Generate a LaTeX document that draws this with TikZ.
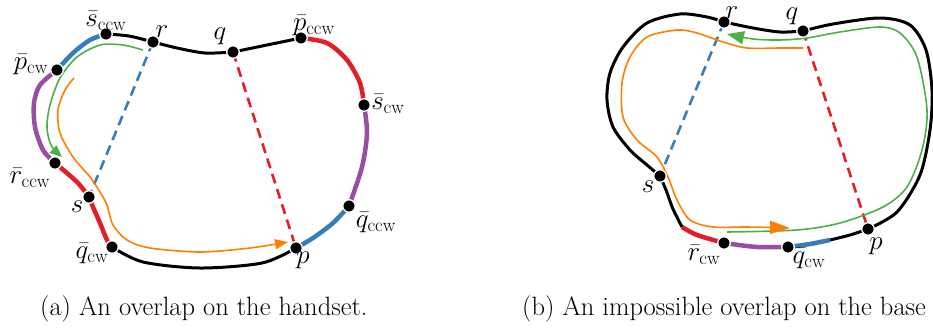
\RequirePackage{fix-cm}
\documentclass[tikz,border=0pt]{standalone}
\usetikzlibrary{arrows.meta}
\definecolor{cred}{RGB}{228,30,38}
\definecolor{cblue}{RGB}{55,126,184}
\definecolor{cpurple}{RGB}{152,78,163}
\definecolor{cgreen}{RGB}{77,175,74}
\definecolor{corange}{RGB}{255,127,0}
\begin{document}
\begin{tikzpicture}[x=1pt,y=-1pt,
  outline/.style={line width=3pt, black},
  seg/.style={line width=4.5pt},
  chord/.style={line width=2.6pt, dash pattern=on 10pt off 6pt},
  route/.style={line width=1.6pt},
  dot/.style={circle, fill=black, draw=white, line width=1.3pt, minimum size=12.5pt, inner sep=0pt},
  lbl/.style={font=\fontsize{27}{27}\selectfont, inner sep=0pt},
  captext/.style={font=\fontsize{26.5}{30}\selectfont, anchor=base west, inner sep=0pt}]
\useasboundingbox (0,0) rectangle (933,327);

% ---------- (a) ----------
\coordinate (a-sccw) at (106,34);
\coordinate (a-r) at (153,42);
\coordinate (a-q) at (233,52);
\coordinate (a-pccw) at (301,38);
\coordinate (a-scw) at (364,105);
\coordinate (a-qccw) at (349,206);
\coordinate (a-p) at (296,248);
\coordinate (a-qcw) at (112,247);
\coordinate (a-s) at (89,197);
\coordinate (a-rccw) at (55,163);
\coordinate (a-pcw) at (57,70);

\draw[outline] plot[smooth] coordinates {(a-sccw) (129,36) (a-r)};
\draw[outline] plot[smooth] coordinates {(a-r) (177,48) (205,53) (a-q)};
\draw[outline] plot[smooth] coordinates {(a-q) (267,45) (a-pccw)};
\draw[seg,cred] plot[smooth] coordinates {(a-pccw) (327,43) (347,60) (360,83) (a-scw)};
\draw[seg,cpurple] plot[smooth] coordinates {(a-scw) (367,133) (362,167) (a-qccw)};
\draw[seg,cblue] plot[smooth] coordinates {(a-qccw) (333,223) (313,238) (a-p)};
\draw[outline] plot[smooth] coordinates {(a-p) (262,263) (200,268) (143,262) (a-qcw)};
\draw[seg,cred] plot[smooth] coordinates {(a-qcw) (107,240) (100,223) (93,207) (a-s)};
\draw[seg,cred] plot[smooth] coordinates {(a-s) (77,182) (a-rccw)};
\draw[seg,cpurple] plot[smooth] coordinates {(a-rccw) (43,150) (35,127) (34,103) (40,85) (a-pcw)};
\draw[seg,cblue] plot[smooth] coordinates {(a-pcw) (73,53) (90,40) (a-sccw)};

\draw[chord,cblue] (a-r) -- (a-s);
\draw[chord,cred] (a-q) -- (a-p);

\coordinate (a-g0) at (143,50);
\coordinate (a-g1) at (62,157);
\draw[route,cgreen,-{Triangle[length=12pt,width=10pt]}] plot[smooth] coordinates
  {(a-g0) (123,45) (100,45) (77,57) (60,78) (50,105) (47,127) (51,145) (a-g1)};
\coordinate (a-o0) at (74,78);
\coordinate (a-o1) at (288,242);
\draw[route,corange,-{Triangle[length=13pt,width=10pt]}] plot[smooth] coordinates
  {(a-o0) (65,90) (58,110) (60,133) (73,157) (90,177) (100,192) (107,205) (113,225) (127,240) (150,248) (200,252) (250,248) (a-o1)};

\foreach \n in {a-sccw,a-r,a-q,a-pccw,a-scw,a-qccw,a-p,a-qcw,a-s,a-rccw,a-pcw}
  \node[dot] (\n-dot) at (\n) {};

\node[lbl] (la-sccw) at (106,21) {$\bar{s}_{\mathrm{ccw}}$};
\node[lbl] (la-r) at (162,32) {$r$};
\node[lbl] (la-q) at (220,36) {$q$};
\node[lbl] (la-pccw) at (314,26) {$\bar{p}_{\mathrm{ccw}}$};
\node[lbl] (la-scw) at (388,104) {$\bar{s}_{\mathrm{cw}}$};
\node[lbl] (la-qccw) at (376,223) {$\bar{q}_{\mathrm{ccw}}$};
\node[lbl] (la-p) at (303,260) {$p$};
\node[lbl] (la-qcw) at (92,254) {$\bar{q}_{\mathrm{cw}}$};
\node[lbl] (la-s) at (77,207) {$s$};
\node[lbl] (la-rccw) at (30,178) {$\bar{r}_{\mathrm{ccw}}$};
\node[lbl] (la-pcw) at (31,65) {$\bar{p}_{\mathrm{cw}}$};

% ---------- (b) ----------
\coordinate (b-r) at (724,22);
\coordinate (b-q) at (803,31);
\coordinate (b-s) at (660,176);
\coordinate (b-p) at (868,229);
\coordinate (b-rcw) at (724,243);
\coordinate (b-qcw) at (788,247);
\coordinate (b-j1) at (830,240);
\coordinate (b-j2) at (682,227);

\draw[outline] plot[smooth] coordinates {(b-r) (753,28) (780,32) (b-q)};
\draw[outline] plot[smooth] coordinates {(b-q) (833,24) (880,18) (910,25) (926,50) (932,90) (930,130) (920,175) (897,212) (b-p)};
\draw[outline] plot[smooth] coordinates {(b-p) (850,235) (b-j1)};
\draw[seg,cblue] plot[smooth] coordinates {(b-j1) (810,244) (b-qcw)};
\draw[seg,cpurple] plot[smooth] coordinates {(b-qcw) (757,247) (b-rcw)};
\draw[seg,cred] plot[smooth] coordinates {(b-rcw) (697,235) (b-j2)};
\draw[outline] plot[smooth] coordinates {(b-j2) (673,209) (666,190) (b-s)};
\draw[outline] plot[smooth] coordinates {(b-s) (647,165) (630,150) (613,127) (607,100) (610,73) (623,47) (647,23) (680,14) (707,17) (b-r)};

\draw[chord,cblue] (b-r) -- (b-s);
\draw[chord,cred] (b-q) -- (b-p);

\coordinate (b-g0) at (727,232);
\coordinate (b-g1) at (727,34);
\draw[route,cgreen,-{Triangle[length=17pt,width=13pt]}] plot[smooth] coordinates
  {(b-g0) (797,230) (840,223) (883,207) (907,187) (922,150) (927,110) (917,57) (900,33) (880,27) (840,32) (807,38) (780,40) (753,39) (b-g1)};
\coordinate (b-o0) at (803,48);
\coordinate (b-o1) at (790,228);
\draw[route,corange,-{Triangle[length=20pt,width=13pt]}] plot[smooth] coordinates
  {(b-o0) (780,48) (747,48) (723,42) (697,33) (677,30) (647,37) (630,57) (622,83) (623,117) (637,140) (657,157) (668,177) (677,200) (690,220) (713,227) (747,227) (b-o1)};

\foreach \n in {b-r,b-q,b-s,b-p,b-rcw,b-qcw}
  \node[dot] (\n-dot) at (\n) {};

\node[lbl] (lb-r) at (732,13) {$r$};
\node[lbl] (lb-q) at (792,16) {$q$};
\node[lbl] (lb-s) at (648,187) {$s$};
\node[lbl] (lb-p) at (876,246) {$p$};
\node[lbl] (lb-rcw) at (704,255) {$\bar{r}_{\mathrm{cw}}$};
\node[lbl] (lb-qcw) at (809,259) {$\bar{q}_{\mathrm{cw}}$};

\node[captext] (capa) at (40,315) {(a) An overlap on the handset.};
\node[captext] (capb) at (522,315) {(b) An impossible overlap on the base};
\end{tikzpicture}
\end{document}
